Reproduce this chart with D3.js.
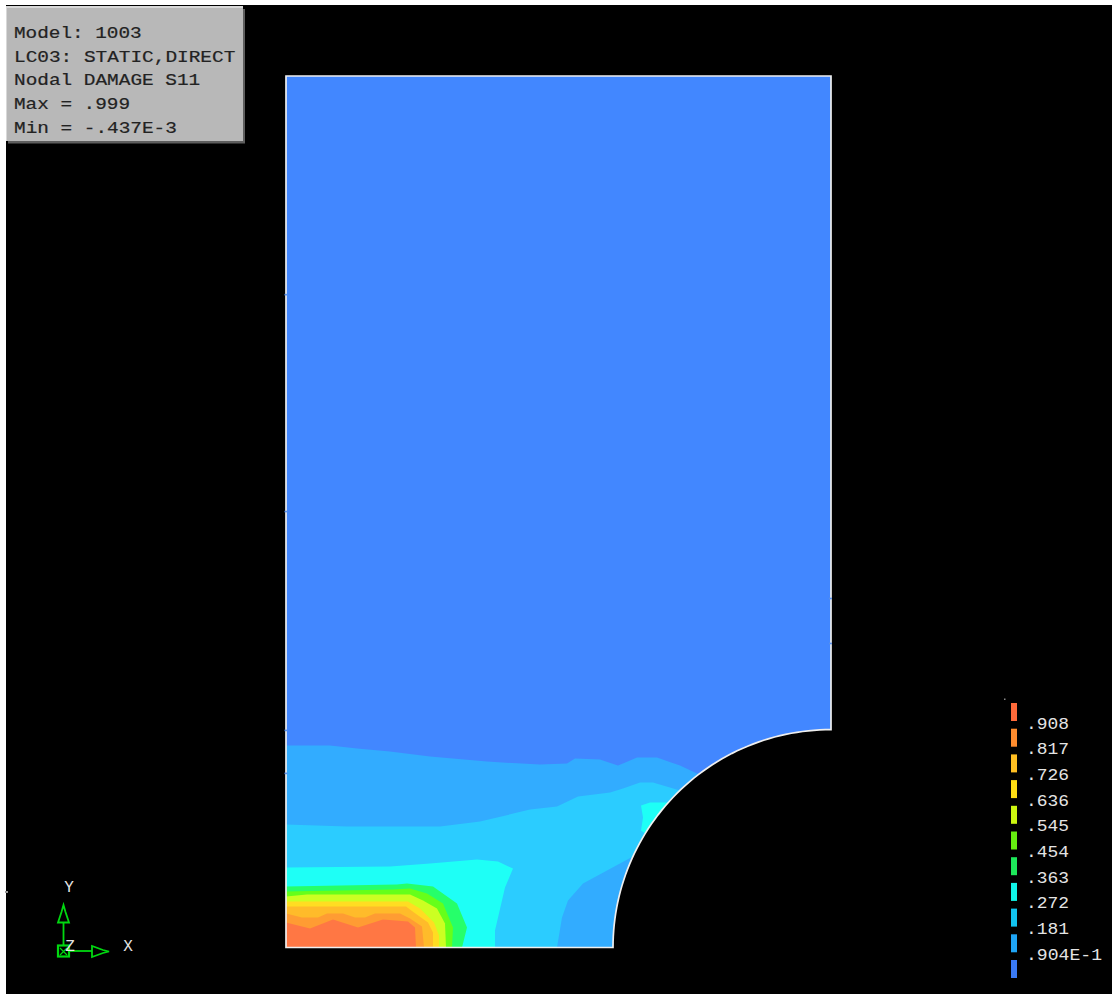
<!DOCTYPE html>
<html><head><meta charset="utf-8">
<script src="https://cdn.jsdelivr.net/npm/d3@7"></script>
<style>html,body{margin:0;padding:0;background:#000;overflow:hidden}svg{display:block}</style>
</head><body><svg id="c" width="1112" height="994"></svg>
<script>
// Header text
const infoLines = ["Model: 1003","LC03: STATIC,DIRECT","Nodal DAMAGE S11","Max = .999","Min = -.437E-3"];
// Legend
const legendLabels = [".908",".817",".726",".636",".545",".454",".363",".272",".181",".904E-1"];
const legendColors = ["#ff6a3a","#ff8c2e","#ffbf22","#ffdd14","#ccf510","#66ee10","#1de85a","#10f5e8","#12c4f0","#1fa5f5","#3a7af5"];
// Geometry of the plate (model units, lower-left corner at 0,0)
const plateWidth = 545, plateHeight = 872, holeRadius = 218;
// Contour fill colours, lowest band first
const baseColor = "#4287ff";
const bandColors = ["#32acff","#2bccff","#1efff6","#26ff6a","#66ff1a","#ccff22","#ffdd22","#ffbb2a","#ff9c33","#ff7744"];
// Contour boundaries: each is the upper edge of the region above that level [x,y]
const contour1 = [[0,202],[44,202],[71,199],[104,196],[144,191],[201,186],[254,183],[281,184],[289,189],[314,188],[332,182],[351,190],[371,190],[394,182],[411,174],[450,170],[450,0]];
const contour2 = [[0,123],[61,121],[154,121],[194,126],[244,138],[271,141],[292,151],[324,155],[337,159],[354,165],[367,165],[394,157],[440,120],[374,90],[345,90],[321,77],[297,64],[282,47],[276,30],[271,0]];
const contour3 = [[0,80],[104,81],[144,84],[191,88],[212,86],[227,79],[219,60],[209,17],[209,0]];
const contour3b = [[355,142],[364,145],[382,145],[420,145],[420,100],[362,112],[355,117],[357,130]];
const contour4 = [[0,61],[111,63],[121,64],[147,61],[171,44],[181,20],[176,0]];
const contour5 = [[0,56],[107,58],[124,59],[141,54],[157,44],[167,20],[166,0]];
const contour6 = [[0,51],[21,53],[109,53],[124,53],[137,47],[151,39],[159,24],[160,0]];
const contour7 = [[0,46],[122,46],[134,39],[148,25],[153,12],[153,0]];
const contour8 = [[0,41],[120,41],[128,35],[142,25],[147,15],[147,0]];
const contour9 = [[0,34],[16,30],[32,30],[41,34],[57,34],[69,30],[79,30],[89,34],[114,34],[124,29],[136,21],[138,0]];
const contour10 = [[0,25],[24,19],[47,28],[72,20],[97,28],[122,26],[129,20],[130,0]];
const contours = [contour1,contour2,contour3,contour4,contour5,contour6,contour7,contour8,contour9,contour10];
// Small element marks on the plate edge, model y
const leftEdgeMarks = [653,436,217,174];
const rightEdgeMarks = [349,304];
// Triad labels
const triadLabels = ["Y","Z","X"];

const svg = d3.select("#c");
const x = d3.scaleLinear().domain([0,plateWidth]).range([286,831]);
const y = d3.scaleLinear().domain([0,plateHeight]).range([947.5,76]);
const line = d3.line().x(d=>x(d[0])).y(d=>y(d[1]));
const MONO = "'Liberation Mono', monospace";

// white strips at window edges
svg.append("rect").attr("width",1112).attr("height",994).attr("fill","#000");
svg.append("rect").attr("width",1112).attr("height",5).attr("fill","#fff");
svg.append("rect").attr("width",6).attr("height",994).attr("fill","#fff");

// plate outline
const arcAngles = d3.range(0,91,1.5).map(a=>Math.PI-a*Math.PI/180);
const arcPts = arcAngles.map(t=>[plateWidth+holeRadius*Math.cos(t),holeRadius*Math.sin(t)]);
const outline = [[0,0],...arcPts,[plateWidth,plateHeight],[0,plateHeight],[0,0]];
svg.append("defs").append("clipPath").attr("id","plate").append("path").attr("d",line(outline));
const plate = svg.append("g").attr("clip-path","url(#plate)");
plate.append("path").attr("d",line(outline)).attr("fill",baseColor);
const closed = pts=>{
  const last = pts[pts.length-1];
  return last[1]===0 ? [...pts,[0,0]] : pts;
};
plate.selectAll("path.band").data(contours).join("path").attr("class","band")
  .attr("d",d=>line(closed(d))+"Z").attr("fill",(d,i)=>bandColors[i]);
plate.append("path").attr("d",line(contour3b)+"Z").attr("fill",bandColors[2]);
svg.append("path").attr("d",line(outline)+"Z").attr("fill","none").attr("stroke","#efefef").attr("stroke-width",1.7);

// edge marks
svg.selectAll("rect.lm").data(leftEdgeMarks).join("rect").attr("class","lm")
  .attr("x",x(0)-1.5).attr("y",d=>y(d)-1).attr("width",3).attr("height",1.6).attr("fill","#5a90e8");
svg.selectAll("rect.rm").data(rightEdgeMarks).join("rect").attr("class","rm")
  .attr("x",x(plateWidth)-2).attr("y",d=>y(d)-1).attr("width",3).attr("height",1.6).attr("fill","#5a90e8");

// info panel
const panel = svg.append("g");
panel.append("rect").attr("x",8).attr("y",9).attr("width",237).attr("height",134.5).attr("fill","#5e5e5e");
panel.append("rect").attr("x",6).attr("y",6).attr("width",237).attr("height",135).attr("fill","#d8d8d8");
panel.append("rect").attr("x",7).attr("y",8).attr("width",236).attr("height",133).attr("fill","#b8b8b8");
const infoY = d3.scaleLinear().domain([0,4]).range([38,132.5]);
panel.selectAll("text").data(infoLines).join("text")
  .attr("x",14).attr("y",(d,i)=>infoY(i)).attr("font-family",MONO).attr("font-size",16)
  .attr("fill","#222").attr("stroke","#222").attr("stroke-width",0.2)
  .attr("textLength",d=>d.length*11.7-1).attr("lengthAdjust","spacingAndGlyphs")
  .style("white-space","pre").text(d=>d);

// legend
const legendY = d3.scaleLinear().domain([0,10]).range([703,960]);
svg.selectAll("rect.sw").data(legendColors).join("rect").attr("class","sw")
  .attr("x",1011).attr("y",(d,i)=>legendY(i)).attr("width",6).attr("height",18).attr("fill",d=>d);
svg.selectAll("text.lg").data(legendLabels).join("text").attr("class","lg")
  .attr("x",1026).attr("y",(d,i)=>legendY(i)+25.5).attr("font-family",MONO).attr("font-size",16)
  .attr("fill","#e4e4e4").attr("textLength",d=>d.length*11-1).attr("lengthAdjust","spacingAndGlyphs").text(d=>d);
svg.append("rect").attr("x",1004).attr("y",698.5).attr("width",1.5).attr("height",1.5).attr("fill","#888");
svg.append("rect").attr("x",5).attr("y",891).attr("width",3).attr("height",2).attr("fill","#999");

// triad
const triad = svg.append("g").attr("fill","none").attr("stroke","#00d810").attr("stroke-width",1.8);
triad.append("rect").attr("x",58).attr("y",945.5).attr("width",11).attr("height",11).attr("stroke-width",2.2);
triad.append("path").attr("d","M60,948L67,955M67,948L60,955").attr("stroke-width",1.2);
triad.append("path").attr("d","M63.5,945V923");
triad.append("path").attr("d","M58,922.5H69L65.5,912L63.5,905L61.5,912Z");
triad.append("path").attr("d","M69,951H92");
triad.append("path").attr("d","M92,946V957L103,953L109,951.5L103,950Z");
const triadLabelX = [69,70,128], triadLabelY = [892,951,951];
svg.selectAll("text.tr").data(triadLabels).join("text").attr("class","tr")
  .attr("x",(d,i)=>triadLabelX[i]).attr("y",(d,i)=>triadLabelY[i]).attr("text-anchor","middle")
  .attr("font-family",MONO).attr("font-size",16).attr("fill","#e4e4e4").text(d=>d);
</script></body></html>
